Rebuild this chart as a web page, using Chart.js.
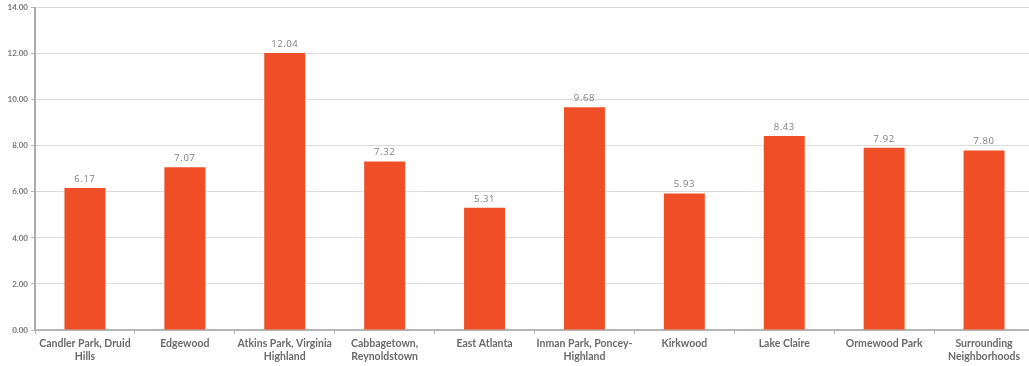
<!DOCTYPE html>
<html lang="en">
<head>
<meta charset="UTF-8">
<title>Neighborhood values</title>
<script src="https://cdn.jsdelivr.net/npm/chart.js"></script>
<style>
  html, body { margin: 0; padding: 0; background: #fff; overflow: hidden; }
  #wrap { width: 1034px; height: 366px; position: relative; }
</style>
</head>
<body>
<div id="wrap"><canvas id="chart"></canvas></div>
<script>
// neighborhoods along the x axis
const neighborhoods = [
  ['Candler Park, Druid', 'Hills'],
  'Edgewood',
  ['Atkins Park, Virginia', 'Highland'],
  ['Cabbagetown,', 'Reynoldstown'],
  'East Atlanta',
  ['Inman Park, Poncey-', 'Highland'],
  'Kirkwood',
  'Lake Claire',
  'Ormewood Park',
  ['Surrounding', 'Neighborhoods']
];
const values = [6.17, 7.07, 12.04, 7.32, 5.31, 9.68, 5.93, 8.43, 7.92, 7.80];
const yTicks = [0, 2, 4, 6, 8, 10, 12, 14];

// prints each value just above its bar
const valueLabels = {
  id: 'valueLabels',
  afterDatasetsDraw(chart) {
    const ctx = chart.ctx;
    const meta = chart.getDatasetMeta(0);
    ctx.save();
    ctx.fillStyle = '#7d7d7d';
    ctx.font = '9.5px "Open Sans", sans-serif';
    ctx.letterSpacing = '0.6px';
    ctx.textAlign = 'center';
    ctx.textBaseline = 'bottom';
    meta.data.forEach((bar, i) => {
      ctx.fillText(values[i].toFixed(2), bar.x, bar.y - 4);
    });
    ctx.restore();
  }
};

new Chart(document.getElementById('chart'), {
  type: 'bar',
  data: {
    labels: neighborhoods,
    datasets: [{
      data: values,
      backgroundColor: '#f04e26',
      borderWidth: 0,
      barPercentage: 0.41,
      categoryPercentage: 1
    }]
  },
  options: {
    responsive: true,
    maintainAspectRatio: false,
    animation: false,
    layout: { padding: { top: 6, left: 0, right: 0, bottom: 0 } },
    plugins: { legend: { display: false }, tooltip: { enabled: false } },
    scales: {
      x: {
        afterFit(scale) { scale.height = 36; },
        grid: { drawOnChartArea: false, drawTicks: true, tickLength: 4, color: '#b5b5b5', offset: true },
        border: { color: '#b5b5b5', width: 2 },
        ticks: {
          color: '#6a6a6a',
          padding: 3,
          maxRotation: 0,
          autoSkip: false,
          font: { family: 'Lato, sans-serif', size: 10.5, weight: 'bold', lineHeight: 1.25 }
        }
      },
      y: {
        min: 0,
        max: 14,
        afterFit(scale) { scale.width = 35; },
        afterBuildTicks(scale) { scale.ticks = yTicks.map(v => ({ value: v })); },
        grid: { color: '#dcdcdc', lineWidth: 1, tickLength: 4, tickColor: '#b5b5b5' },
        border: { color: '#ababab', width: 2 },
        ticks: {
          color: '#777',
          padding: 3,
          font: { family: 'Lato, sans-serif', size: 8, weight: 'bold' },
          callback: v => Number(v).toFixed(2)
        }
      }
    }
  },
  plugins: [valueLabels]
});
</script>
</body>
</html>
